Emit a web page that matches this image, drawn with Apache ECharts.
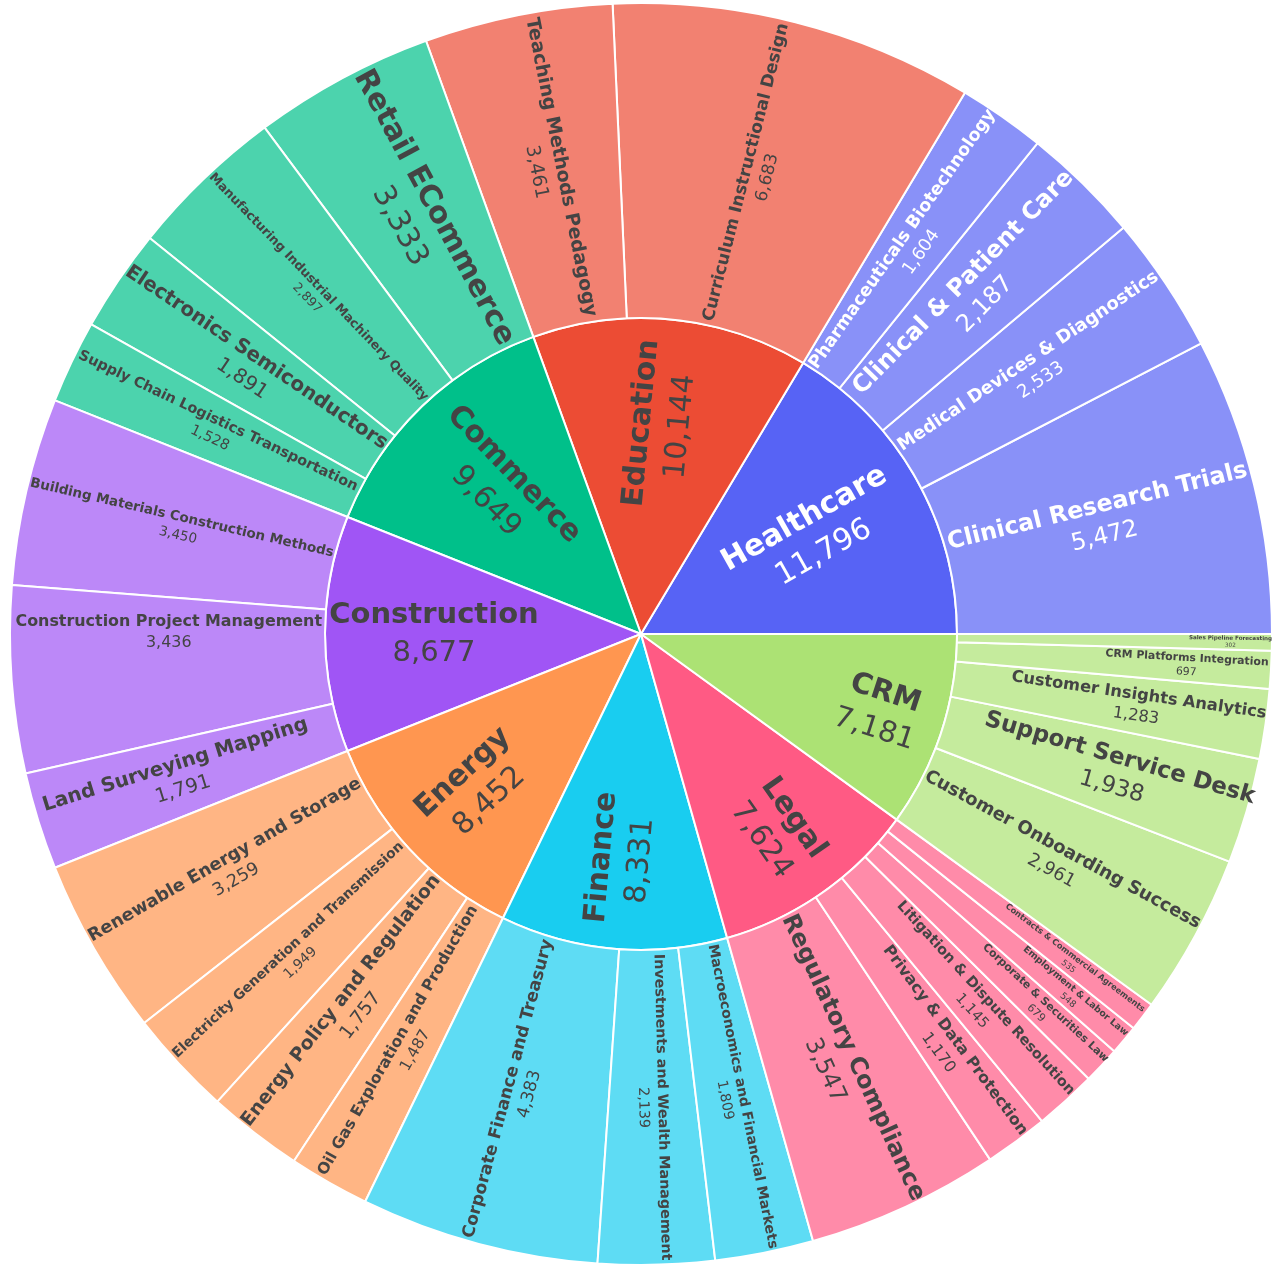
<!DOCTYPE html>
<html><head><meta charset="utf-8">
<script src="https://cdn.jsdelivr.net/npm/echarts@6/dist/echarts.min.js"></script>
<style>html,body{margin:0;padding:0;background:#fff}#chart{width:1288px;height:1273px}</style>
</head><body><div id="chart"></div>
<script>
// ---- data ----
const sectors = ['Healthcare','Education','Commerce','Construction','Energy','Finance','Legal','CRM'];
const sectorValues = [11796,10144,9649,8677,8452,8331,7624,7181];

const healthcareTopics = ['Clinical Research Trials','Medical Devices & Diagnostics','Clinical & Patient Care','Pharmaceuticals Biotechnology'];
const healthcareValues = [5472,2533,2187,1604];
const educationTopics = ['Curriculum Instructional Design','Teaching Methods Pedagogy'];
const educationValues = [6683,3461];
const commerceTopics = ['Retail ECommerce','Manufacturing Industrial Machinery Quality','Electronics Semiconductors','Supply Chain Logistics Transportation'];
const commerceValues = [3333,2897,1891,1528];
const constructionTopics = ['Building Materials Construction Methods','Construction Project Management','Land Surveying Mapping'];
const constructionValues = [3450,3436,1791];
const energyTopics = ['Renewable Energy and Storage','Electricity Generation and Transmission','Energy Policy and Regulation','Oil Gas Exploration and Production'];
const energyValues = [3259,1949,1757,1487];
const financeTopics = ['Corporate Finance and Treasury','Investments and Wealth Management','Macroeconomics and Financial Markets'];
const financeValues = [4383,2139,1809];
const legalTopics = ['Regulatory Compliance','Privacy & Data Protection','Litigation & Dispute Resolution','Corporate & Securities Law','Employment & Labor Law','Contracts & Commercial Agreements'];
const legalValues = [3547,1170,1145,679,548,535];
const crmTopics = ['Customer Onboarding Success','Support Service Desk','Customer Insights Analytics','CRM Platforms Integration','Sales Pipeline Forecasting'];
const crmValues = [2961,1938,1283,697,302];

const topicLists = [healthcareTopics,educationTopics,commerceTopics,constructionTopics,energyTopics,financeTopics,legalTopics,crmTopics];
const topicValueLists = [healthcareValues,educationValues,commerceValues,constructionValues,energyValues,financeValues,legalValues,crmValues];

// ---- styles ----
const sectorColors = [[87,99,245],[236,76,52],[0,192,138],[160,85,245],[255,150,80],[25,205,240],[255,90,132],[172,226,116]];
const lightText = [true,false,false,false,false,false,false,false];
// [font size, radial shift, optional fixed rotation, optional vertical shift]
const labelStyle = {
  'Healthcare':[30,41],'Education':[30,52],'Commerce':[30,45],'Construction':[29,49],'Energy':[30,67],'Finance':[30,68],'Legal':[30,80],'CRM':[29,93],
  'Clinical Research Trials':[23.7,0],'Medical Devices & Diagnostics':[18,0],'Clinical & Patient Care':[24,3],'Pharmaceuticals Biotechnology':[17.6,0],
  'Curriculum Instructional Design':[17.1,0],'Teaching Methods Pedagogy':[18.9,0],
  'Retail ECommerce':[30,0],'Manufacturing Industrial Machinery Quality':[12.6,0],'Electronics Semiconductors':[20,0],'Supply Chain Logistics Transportation':[14.4,0],
  'Building Materials Construction Methods':[13.5,0],'Construction Project Management':[15.9,0,0,-36],'Land Surveying Mapping':[19.8,10],
  'Renewable Energy and Storage':[17.6,0],'Electricity Generation and Transmission':[13.8,0],'Energy Policy and Regulation':[18.9,0],'Oil Gas Exploration and Production':[15.6,0],
  'Corporate Finance and Treasury':[17.1,0],'Investments and Wealth Management':[14.3,0],'Macroeconomics and Financial Markets':[14,0],
  'Regulatory Compliance':[23.9,0],'Privacy & Data Protection':[15.9,40],'Litigation & Dispute Resolution':[14.5,28],'Corporate & Securities Law':[10.9,74],'Employment & Labor Law':[9.3,89],'Contracts & Commercial Agreements':[8.3,68],
  'Customer Onboarding Success':[18.1,0],'Support Service Desk':[23.1,21],'Customer Insights Analytics':[16.3,28],'CRM Platforms Integration':[10.9,73],'Sales Pipeline Forecasting':[5.6,116]
};
const FONT = '"DejaVu Sans", Verdana, sans-serif';
const DARK = '#444';

function makeLabel(name, midDeg, light) {
  const st = labelStyle[name] || [12,0];
  const s = st[0], shift = st[1];
  const m = ((midDeg % 360) + 360) % 360;
  const flip = m > 90 && m < 270;
  const col = light ? '#fff' : DARK;
  const lab = {
    show: true,
    color: col,
    padding: flip ? [0, 2*shift, 0, 0] : [0, 0, 0, 2*shift],
    rich: {
      n: {fontSize: s, fontWeight: 'bold', fontFamily: FONT, color: col, lineHeight: Math.round(s*1.3), align:'center'},
      v: {fontSize: s, fontFamily: FONT, color: col, lineHeight: Math.round(s*1.3), align:'center'}
    }
  };
  if (st.length > 2) {
    lab.rotate = st[2];
    const vy = st[3] || 0;
    lab.padding = vy < 0 ? [0, 0, -2*vy, 0] : [2*vy, 0, 0, 0];
  }
  return lab;
}

const total = sectorValues.reduce((a,b)=>a+b,0);
let acc = 0;
const treeData = sectors.map((sec, i) => {
  const c = sectorColors[i];
  const span = sectorValues[i] / total * 360;
  const start = acc; acc += span;
  let cacc = start;
  const children = topicLists[i].map((t, j) => {
    const v = topicValueLists[i][j];
    const cs = v / total * 360;
    const mid = cacc + cs/2; cacc += cs;
    return {
      name: t, value: v,
      itemStyle: {color: `rgba(${c[0]},${c[1]},${c[2]},0.7)`},
      label: makeLabel(t, mid, lightText[i])
    };
  });
  return {
    name: sec, value: sectorValues[i],
    itemStyle: {color: `rgb(${c[0]},${c[1]},${c[2]})`},
    label: makeLabel(sec, start + span/2, lightText[i]),
    children
  };
});

const chart = echarts.init(document.getElementById('chart'), null, {renderer:'canvas'});
chart.setOption({
  backgroundColor: '#fff',
  animation: false,
  series: [{
    type: 'sunburst',
    center: [641, 634],
    radius: [0, 631],
    startAngle: 0,
    clockwise: false,
    sort: null,
    nodeClick: false,
    emphasis: {focus: 'none'},
    itemStyle: {borderColor: '#fff', borderWidth: 2},
    label: {
      rotate: 'radial',
      formatter: p => '{n|' + p.name + '}\n{v|' + Number(p.value).toLocaleString('en-US') + '}'
    },
    levels: [{}, {r0: 0, r: 316}, {r0: 316, r: 631}],
    data: treeData
  }]
});
</script>
</body></html>
